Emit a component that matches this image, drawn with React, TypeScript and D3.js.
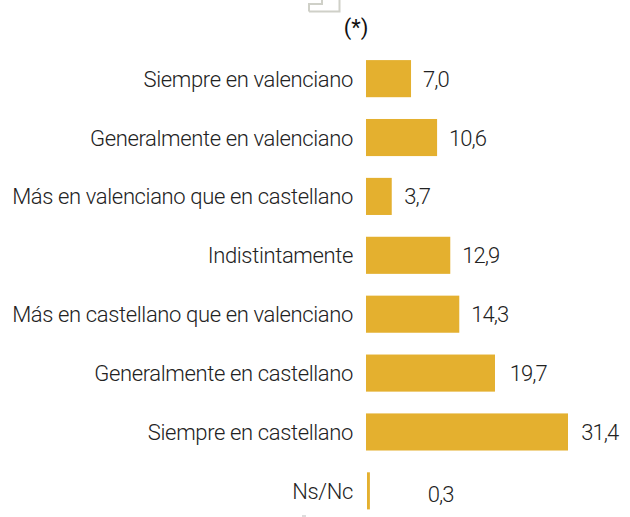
import React from "react";
import * as d3 from "d3";

const categories = ["Siempre en valenciano","Generalmente en valenciano","Más en valenciano que en castellano","Indistintamente","Más en castellano que en valenciano","Generalmente en castellano","Siempre en castellano","Ns/Nc"];
const labels = ["7,0","10,6","3,7","12,9","14,3","19,7","31,4","0,3"];
// bar lengths as drawn in the picture, slightly different from the printed labels
const barValues = [7.0,11.05,4.0,13.1,14.5,20.05,31.4,0.45];
const labelValues = [8.85,12.9,5.95,14.95,16.35,22.35,33.45,9.6];
const labelRowShift = [0,0,0,0,0,0,0,3];

export default function App() {
  const x = d3.scaleLinear().domain([0,31.4]).range([366,568]);
  const y = d3.scaleBand().domain(categories).range([49.5,520]).paddingInner(0.37).paddingOuter(0.18);
  return (
    <svg width={630} height={517} style={{position:"absolute",left:0,top:0}} fontFamily="Roboto" fontWeight={300} fontSize={22} letterSpacing={-0.36} fill="#222">
      <text x={356} y={35} textAnchor="middle" fontWeight={400} fontSize={22} letterSpacing={0} fill="#111">(*)</text>
      <path d="M309 11.5H339.5V0M309 11.5V4H322V0" fill="none" stroke="#cfd0c8" strokeWidth={2}/>
      <rect x={302} y={515} width={4} height={2} fill="#ddd"/>
      {categories.map((c,i)=>{
        const yy = y(c)!; const h = y.bandwidth();
        const cy = yy+h/2;
        return <g key={c}>
          <rect x={i === 7 ? 367 : 366} y={yy} width={x(barValues[i])-366} height={h} fill="#e4b02f"/>
          <text x={353} y={cy+8} textAnchor="end">{c}</text>
          <text x={x(labelValues[i])} y={cy+8+labelRowShift[i]} letterSpacing={-0.95}>{labels[i]}</text>
        </g>;
      })}
    </svg>
  );
}
